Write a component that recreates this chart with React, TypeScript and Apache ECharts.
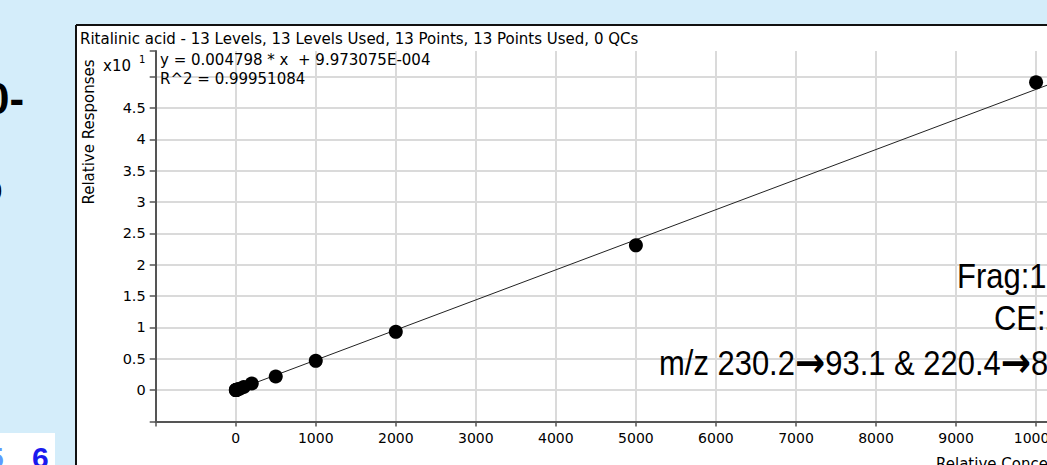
import React, { useEffect, useRef } from 'react';
import * as echarts from 'echarts';

// ---- data ----
const concentrations = [1, 2, 5, 10, 20, 50, 100, 200, 500, 1000, 2000, 5000, 10000];
const responses = [0.0005, 0.001, 0.0024, 0.0048, 0.0096, 0.024, 0.05, 0.106, 0.217, 0.468, 0.93, 2.31, 4.91];
const fitX = [0, 11000];
const fitY = [0.0001, 5.278];
const xTickValues = [0, 1000, 2000, 3000, 4000, 5000, 6000, 7000, 8000, 9000, 10000];
const xTickLabels = ['0', '1000', '2000', '3000', '4000', '5000', '6000', '7000', '8000', '9000', '10000'];
const yTickValues = [0, 0.5, 1, 1.5, 2, 2.5, 3, 3.5, 4, 4.5];
const yTickLabels = ['0', '0.5', '1', '1.5', '2', '2.5', '3', '3.5', '4', '4.5'];

const TITLE = 'Ritalinic acid - 13 Levels, 13 Levels Used, 13 Points, 13 Points Used, 0 QCs';
const EQ_LINE1 = 'y = 0.004798 * x  + 9.973075E-004';
const EQ_LINE2 = 'R^2 = 0.99951084';
const Y_NAME = 'Relative Responses';
const X_NAME = 'Relative Concentration';
const NOTE1 = 'Frag:100';
const NOTE2 = 'CE:20';
const NOTE3_PARTS = ['m/z 230.2', '93.1 & 220.4', '84.1'];

const FONT = '"DejaVu Sans", Verdana, sans-serif';
const NARROW = '"Liberation Sans Narrow", "Arial Narrow", "Liberation Sans", Arial, sans-serif';
const BG = '#d4edfa';

export default function App() {
  const ref = useRef<HTMLDivElement>(null);

  useEffect(() => {
    if (!ref.current) return;
    const chart = echarts.init(ref.current, undefined, { renderer: 'svg' });

    const pick = (vals: number[], labels: string[], v: number) => {
      const i = vals.findIndex((t) => Math.abs(t - v) < 1e-6);
      return i >= 0 ? labels[i] : '';
    };

    const noteStyle = { font: `36px ${NARROW}`, fill: '#000', textVerticalAlign: 'middle' };

    const option: any = {
      animation: false,
      backgroundColor: '#ffffff',
      title: {
        text: TITLE,
        left: 80,
        top: 31,
        padding: 0,
        textStyle: { fontFamily: FONT, fontSize: 15, fontWeight: 'normal', color: '#000' },
      },
      grid: {
        left: 155.7,
        top: 51,
        width: 960.4,
        height: 370.5,
        containLabel: false,
        outerBoundsMode: 'none',
      },
      xAxis: {
        type: 'value',
        min: -1000,
        max: 11000,
        interval: 1000,
        axisLine: { show: true, onZero: false, lineStyle: { color: '#555', width: 2 } },
        axisTick: { show: true, length: 5, lineStyle: { color: '#555', width: 1.5 } },
        axisLabel: {
          margin: 9,
          fontFamily: FONT,
          fontSize: 14,
          color: '#000',
          formatter: (v: number) => pick(xTickValues, xTickLabels, v),
        },
        splitLine: {
          show: true,
          showMinLine: false,
          showMaxLine: false,
          lineStyle: { color: '#dadada', width: 2 },
        },
      },
      yAxis: {
        type: 'value',
        min: -0.5,
        max: 5.41,
        splitNumber: 12,
        axisLine: { show: true, onZero: false, lineStyle: { color: '#555', width: 2 } },
        axisTick: { show: true, length: 6, lineStyle: { color: '#555', width: 1.5 } },
        axisLabel: {
          margin: 10,
          fontFamily: FONT,
          fontSize: 14.5,
          color: '#000',
          formatter: (v: number) => pick(yTickValues, yTickLabels, v),
        },
        splitLine: {
          show: true,
          showMinLine: false,
          showMaxLine: false,
          lineStyle: { color: '#dadada', width: 2 },
        },
      },
      series: [
        {
          type: 'line',
          data: fitX.map((x, i) => [x, fitY[i]]),
          showSymbol: false,
          symbol: 'none',
          lineStyle: { color: '#222', width: 1 },
          z: 2,
        },
        {
          type: 'scatter',
          data: concentrations.map((x, i) => [x, responses[i]]),
          symbol: 'circle',
          symbolSize: 14,
          itemStyle: { color: '#000', opacity: 1 },
          z: 3,
        },
      ],
      graphic: [
        // slide background around the chart panel
        { type: 'rect', z: 50, shape: { x: 0, y: 0, width: 1300, height: 25 }, style: { fill: BG }, silent: true },
        { type: 'rect', z: 50, shape: { x: 0, y: 0, width: 76, height: 700 }, style: { fill: BG }, silent: true },
        { type: 'line', z: 51, shape: { x1: 76, y1: 25, x2: 76, y2: 700 }, style: { stroke: '#111', lineWidth: 2 }, silent: true },
        { type: 'line', z: 51, shape: { x1: 76, y1: 25, x2: 1300, y2: 25 }, style: { stroke: '#111', lineWidth: 2 }, silent: true },
        // cut-off slide text fragments
        {
          type: 'text', z: 52, x: -15, y: 98,
          style: { text: '0-', font: 'bold 44px "Liberation Sans", Arial, sans-serif', fill: '#000', textVerticalAlign: 'middle' },
          silent: true,
        },
        {
          type: 'text', z: 52, x: -24, y: 187,
          style: { text: 'o', font: 'bold 44px "Liberation Sans", Arial, sans-serif', fill: '#000', textVerticalAlign: 'middle' },
          silent: true,
        },
        { type: 'rect', z: 52, shape: { x: 0, y: 433, width: 55, height: 60 }, style: { fill: '#ffffff' }, silent: true },
        {
          type: 'text', z: 53, x: -13, y: 442,
          style: { text: '5', font: 'bold 30px "Liberation Sans", Arial, sans-serif', fill: '#5b9bff', textVerticalAlign: 'top' },
          silent: true,
        },
        {
          type: 'text', z: 53, x: 32, y: 442,
          style: { text: '6', font: 'bold 30px "Liberation Sans", Arial, sans-serif', fill: '#1a1aee', textVerticalAlign: 'top' },
          silent: true,
        },
        // regression text
        {
          type: 'text', z: 60, x: 160, y: 60,
          style: { text: EQ_LINE1, font: `15px ${FONT}`, fill: '#000', textVerticalAlign: 'middle' },
        },
        {
          type: 'text', z: 60, x: 160, y: 79,
          style: { text: EQ_LINE2, font: `15px ${FONT}`, fill: '#000', textVerticalAlign: 'middle' },
        },
        // exponent
        {
          type: 'text', z: 60, x: 103, y: 66,
          style: { text: 'x10', font: `15px ${FONT}`, fill: '#000', textVerticalAlign: 'middle' },
        },
        {
          type: 'text', z: 60, x: 139, y: 59,
          style: { text: '1', font: `10px ${FONT}`, fill: '#000', textVerticalAlign: 'middle' },
        },
        // axis names
        {
          type: 'text', z: 60, x: 89, y: 132, rotation: Math.PI / 2,
          style: { text: Y_NAME, font: `15px ${FONT}`, fill: '#000', textAlign: 'center', textVerticalAlign: 'middle' },
        },
        {
          type: 'text', z: 60, x: 936, y: 456,
          style: { text: X_NAME, font: `15px ${FONT}`, fill: '#000', textVerticalAlign: 'top' },
        },
        // annotation (condensed sans)
        {
          type: 'text', z: 60, x: 957, y: 276, scaleX: 0.86,
          style: { text: NOTE1, ...noteStyle },
        },
        {
          type: 'text', z: 60, x: 994, y: 318, scaleX: 0.86,
          style: { text: NOTE2, ...noteStyle },
        },
        {
          type: 'text', z: 60, x: 659, y: 363, scaleX: 0.86,
          style: {
            text: `${NOTE3_PARTS[0]}{a|\u2192}${NOTE3_PARTS[1]}{a|\u2192}${NOTE3_PARTS[2]}`,
            ...noteStyle,
            rich: {
              a: { fontFamily: '"DejaVu Sans", sans-serif', fontWeight: 'bold', fontSize: 42, fill: '#000' },
            },
          },
        },
      ],
    };

    chart.setOption(option);
    return () => chart.dispose();
  }, []);

  return (
    <div style={{ position: 'fixed', left: 0, top: 0, width: 1047, height: 465, overflow: 'hidden' }}>
      <div ref={ref} style={{ width: 1200, height: 520 }} />
    </div>
  );
}
